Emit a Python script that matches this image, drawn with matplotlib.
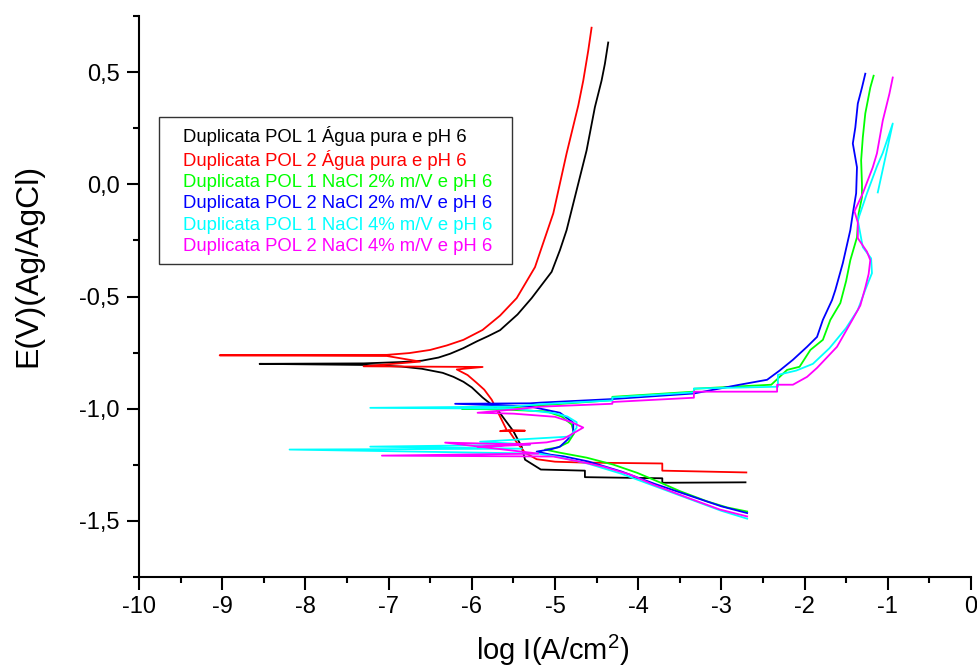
import matplotlib
matplotlib.use("Agg")
import matplotlib.pyplot as plt
from matplotlib.ticker import MultipleLocator, FuncFormatter
from matplotlib.lines import Line2D

plt.rcParams['font.family'] = ['Liberation Sans', 'DejaVu Sans']
plt.rcParams['mathtext.default'] = 'regular'

# ---- data: (log I, E) points, in scan order ----
labels = [
    "Duplicata POL 1 Água pura e pH 6",
    "Duplicata POL 2 Água pura e pH 6",
    "Duplicata POL 1 NaCl 2% m/V e pH 6",
    "Duplicata POL 2 NaCl 2% m/V e pH 6",
    "Duplicata POL 1 NaCl 4% m/V e pH 6",
    "Duplicata POL 2 NaCl 4% m/V e pH 6",
]
colors = ["#000000", "#ff0000", "#00ff00", "#0000ff", "#00ffff", "#ff00ff"]

pol1_agua = [
    (-2.71, -1.328), (-3.71, -1.330), (-3.71, -1.310), (-4.64, -1.305), (-4.64, -1.276),
    (-5.17, -1.271), (-5.36, -1.227), (-5.40, -1.170), (-5.50, -1.100), (-5.60, -1.050),
    (-5.70, -1.000), (-5.87, -0.950), (-6.00, -0.905), (-6.10, -0.880), (-6.22, -0.858),
    (-6.35, -0.840), (-6.60, -0.822), (-6.85, -0.812), (-7.30, -0.805), (-8.55, -0.800),
    (-7.30, -0.798), (-6.85, -0.792), (-6.60, -0.786), (-6.40, -0.772), (-6.26, -0.755),
    (-6.10, -0.730), (-5.94, -0.700), (-5.80, -0.676), (-5.66, -0.650), (-5.45, -0.580),
    (-5.28, -0.507), (-5.04, -0.390), (-4.94, -0.293), (-4.86, -0.204), (-4.62, 0.151),
    (-4.52, 0.344), (-4.44, 0.462), (-4.40, 0.537), (-4.36, 0.632),
]
pol2_agua = [
    (-2.70, -1.284), (-3.71, -1.276), (-3.71, -1.244), (-4.66, -1.240), (-5.00, -1.236),
    (-5.22, -1.225), (-5.36, -1.196), (-5.46, -1.150), (-5.56, -1.095), (-5.36, -1.098),
    (-5.66, -1.100), (-5.58, -1.095), (-5.66, -1.035), (-5.76, -0.960), (-5.85, -0.915),
    (-5.94, -0.885), (-6.05, -0.850), (-6.18, -0.825), (-5.87, -0.814), (-7.30, -0.811),
    (-6.62, -0.790), (-7.02, -0.765), (-9.03, -0.762), (-7.02, -0.760), (-6.75, -0.752),
    (-6.50, -0.738), (-6.30, -0.718), (-6.10, -0.693), (-5.87, -0.649), (-5.66, -0.585),
    (-5.46, -0.507), (-5.24, -0.369), (-5.02, -0.129), (-4.86, 0.138), (-4.72, 0.351),
    (-4.66, 0.462), (-4.60, 0.596), (-4.56, 0.698),
]
pol1_nacl2 = [
    (-2.69, -1.458), (-2.93, -1.440), (-3.17, -1.413), (-3.50, -1.367), (-3.74, -1.328),
    (-4.01, -1.286), (-4.30, -1.249), (-4.62, -1.218), (-4.94, -1.196), (-5.12, -1.182),
    (-4.96, -1.172), (-4.84, -1.150), (-4.77, -1.110), (-4.80, -1.070), (-4.92, -1.035),
    (-5.10, -1.012), (-5.60, -1.004), (-6.12, -1.000), (-5.60, -0.997), (-5.18, -0.985),
    (-4.31, -0.962), (-4.31, -0.947), (-3.33, -0.924), (-3.33, -0.911), (-2.40, -0.893),
    (-2.21, -0.827), (-2.06, -0.813), (-1.93, -0.738), (-1.78, -0.693), (-1.69, -0.604),
    (-1.57, -0.529), (-1.50, -0.430), (-1.45, -0.338), (-1.37, -0.236), (-1.35, -0.130),
    (-1.31, -0.058), (-1.31, 0.000), (-1.32, 0.107), (-1.30, 0.209), (-1.27, 0.316),
    (-1.24, 0.373), (-1.21, 0.431), (-1.17, 0.484),
]
pol2_nacl2 = [
    (-2.69, -1.465), (-3.00, -1.435), (-3.40, -1.385), (-3.80, -1.335), (-4.20, -1.280),
    (-4.60, -1.235), (-4.90, -1.212), (-5.05, -1.205), (-5.22, -1.191), (-5.04, -1.180),
    (-4.94, -1.169), (-4.85, -1.138), (-4.78, -1.107), (-4.78, -1.062), (-4.94, -1.018),
    (-5.30, -0.990), (-6.20, -0.978), (-5.30, -0.976), (-5.18, -0.973), (-4.31, -0.957),
    (-3.33, -0.932), (-2.78, -0.893), (-2.45, -0.871), (-2.30, -0.830), (-2.14, -0.782),
    (-1.97, -0.724), (-1.85, -0.680), (-1.78, -0.604), (-1.67, -0.516), (-1.63, -0.471),
    (-1.54, -0.351), (-1.45, -0.204), (-1.42, -0.130), (-1.38, -0.040), (-1.37, 0.076),
    (-1.42, 0.182), (-1.39, 0.253), (-1.36, 0.360), (-1.31, 0.431), (-1.27, 0.493),
]
pol1_nacl4 = [
    (-2.69, -1.490), (-3.00, -1.455), (-3.40, -1.400), (-3.80, -1.345), (-4.20, -1.290),
    (-4.60, -1.245), (-4.95, -1.215), (-5.20, -1.200), (-8.19, -1.182), (-5.40, -1.178),
    (-7.22, -1.169), (-5.30, -1.160), (-5.90, -1.147), (-4.82, -1.124), (-4.74, -1.085),
    (-4.74, -1.060), (-4.85, -1.035), (-5.00, -1.020), (-5.50, -1.000), (-7.22, -0.996),
    (-5.50, -0.990), (-5.18, -0.980), (-4.31, -0.963), (-4.31, -0.950), (-3.33, -0.927),
    (-3.33, -0.910), (-2.32, -0.902), (-2.32, -0.849), (-2.10, -0.830), (-1.90, -0.800),
    (-1.70, -0.730), (-1.50, -0.640), (-1.36, -0.560), (-1.27, -0.470), (-1.19, -0.396),
    (-1.20, -0.330), (-1.30, -0.280), (-1.36, -0.160), (-1.25, -0.040), (-1.13, 0.080),
    (-1.06, 0.140), (-0.94, 0.271), (-1.12, -0.036),
]
pol2_nacl4 = [
    (-2.69, -1.480), (-3.02, -1.449), (-3.41, -1.396), (-3.82, -1.338), (-4.10, -1.293),
    (-4.42, -1.258), (-4.70, -1.236), (-5.02, -1.213), (-7.08, -1.209), (-5.20, -1.200),
    (-6.32, -1.151), (-5.30, -1.160), (-5.93, -1.170), (-5.10, -1.150), (-4.90, -1.135),
    (-4.66, -1.084), (-4.80, -1.060), (-5.00, -1.036), (-5.50, -1.022), (-5.93, -1.018),
    (-5.40, -1.000), (-5.18, -0.991), (-4.31, -0.978), (-4.31, -0.970), (-3.33, -0.951),
    (-3.33, -0.924), (-2.33, -0.924), (-2.33, -0.893), (-2.14, -0.893), (-1.97, -0.858),
    (-1.85, -0.818), (-1.61, -0.724), (-1.42, -0.600), (-1.33, -0.540), (-1.27, -0.460),
    (-1.23, -0.400), (-1.21, -0.338), (-1.25, -0.300), (-1.36, -0.240), (-1.36, -0.170),
    (-1.40, -0.120), (-1.30, -0.040), (-1.18, 0.076), (-1.13, 0.138), (-1.06, 0.284),
    (-0.98, 0.404), (-0.94, 0.476),
]
series = [pol1_agua, pol2_agua, pol1_nacl2, pol2_nacl2, pol1_nacl4, pol2_nacl4]

x_ticks = list(range(-10, 1))
y_ticks = [-1.5, -1.0, -0.5, 0.0, 0.5]

# ---- figure ----
fig = plt.figure(figsize=(9.78, 6.68), dpi=100)
ax = fig.add_axes([0.1421, 0.1362, 0.8507, 0.8398])

for pts, c in zip(series, colors):
    xs = [p[0] for p in pts]
    ys = [p[1] for p in pts]
    ax.plot(xs, ys, color=c, lw=1.3)

ax.set_xlim(-10, 0)
ax.set_ylim(-1.75, 0.75)
ax.set_xticks(x_ticks)
ax.set_yticks(y_ticks)
ax.xaxis.set_minor_locator(MultipleLocator(0.5))
ax.yaxis.set_minor_locator(MultipleLocator(0.25))
ax.xaxis.set_major_formatter(FuncFormatter(lambda v, p: f"{int(round(v))}"))
ax.yaxis.set_major_formatter(FuncFormatter(lambda v, p: f"{round(v, 1):.1f}".replace('.', ',')))

for s in ['top', 'right']:
    ax.spines[s].set_visible(False)
for s in ['left', 'bottom']:
    ax.spines[s].set_linewidth(1.5)

ax.tick_params(which='major', direction='out', length=9, width=1.5, labelsize=17, pad=5)
ax.tick_params(which='minor', direction='out', length=4.5, width=1.5)

ax.set_xlabel("log I(A/cm$^2$)", fontsize=21)
ax.set_ylabel("E(V)(Ag/AgCl)", fontsize=23)
ax.xaxis.set_label_coords(0.4976, -0.10)
ax.yaxis.set_label_coords(-0.115, 0.556)

handles = [Line2D([], [], color='none') for _ in labels]
leg = ax.legend(handles, labels, loc='upper left',
                bbox_to_anchor=(0.024, 0.0, 0.4243, 0.820), mode='expand',
                borderaxespad=0, fontsize=13.3, frameon=True, fancybox=False,
                edgecolor='black', handlelength=0.8, handletextpad=0,
                borderpad=0.5, labelspacing=0.22)
leg.get_frame().set_linewidth(1.0)
for t, c in zip(leg.get_texts(), colors):
    t.set_color(c)

fig.savefig("out.png", dpi=100)
